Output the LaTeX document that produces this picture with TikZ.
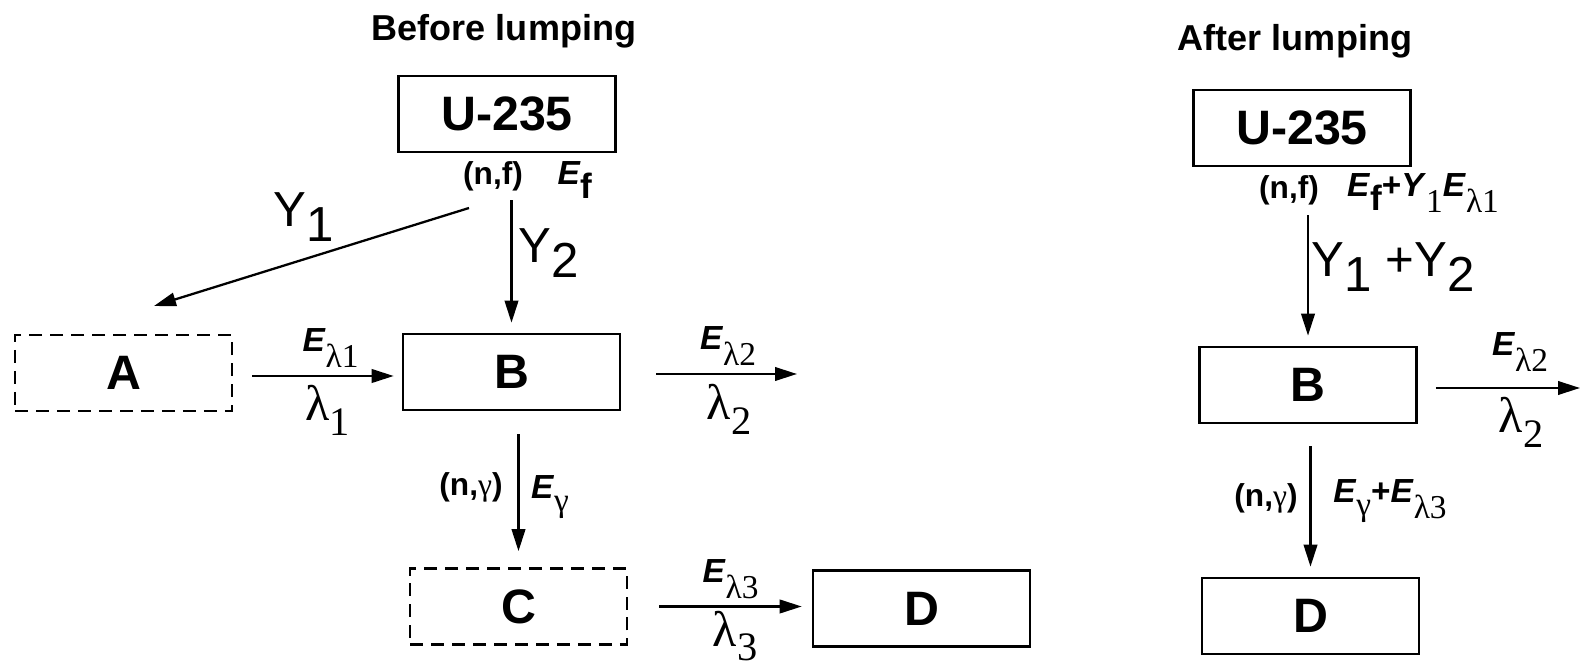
\documentclass[tikz,border=0pt]{standalone}
\usepackage{fontspec}
\setmainfont{Liberation Sans}
\newfontfamily\greekfont{Liberation Serif}
\usepackage{tikz}
\usetikzlibrary{arrows.meta,positioning}

\newcommand{\Esym}{\textbf{\textit{E}}}
\newcommand{\sublow}[2]{\raisebox{-#1}{#2}}

\begin{document}
\begin{tikzpicture}[
    x=0.02cm, y=-0.02cm,
    species/.style={rectangle, draw=black, line width=1.5pt, minimum width=4.34cm, minimum height=1.52cm, inner sep=0pt, font=\fontsize{27.5}{30}\selectfont\bfseries},
    lumped/.style={species, dash pattern=on 0.26cm off 0.16cm},
    title/.style={font=\fontsize{20.5}{24}\selectfont\bfseries, inner sep=0pt},
    reaction/.style={font=\fontsize{18}{20}\selectfont\bfseries, inner sep=0pt},
    energy/.style={font=\fontsize{19}{21}\selectfont, inner sep=0pt},
    yieldlab/.style={font=\fontsize{28}{30}\selectfont, inner sep=0pt},
    decaylab/.style={font=\fontsize{28.5}{30}\selectfont\greekfont, inner sep=0pt},
    arrow/.style={-{Triangle[length=0.44cm, width=0.27cm]}, line width=1.3pt, draw=black}
]
\useasboundingbox (0,0) rectangle (1582,671);

% before lumping
\node[title] (titleL) at (504,31) {Before lumping};
\node[species] (u235L) at (507,114) {U-235};
\node[reaction] (nfL) at (493,176) {(n,f)};
\node[energy] (EfL) at (575,180) {\Esym\sublow{8pt}{\fontsize{20}{20}\selectfont\bfseries f}};
\node[yieldlab] (Y1L) at (304,217.5) {Y\sublow{8.5pt}{1}};
\node[yieldlab] (Y2L) at (549,253) {Y\sublow{8.5pt}{2}};

\node[lumped] (A) at (123.5,373) {A};
\node[species] (B) at (511.5,372) {B};
\node[lumped] (C) at (518.5,606.5) {C};
\node[species] (D) at (921.5,608.5) {D};

\node[energy] (El1) at (330.5,348) {\Esym\sublow{9pt}{\greekfont λ1}};
\node[decaylab] (l1) at (327.5,410) {λ\sublow{8.5pt}{\fontsize{23}{23}\selectfont 1}};
\node[energy] (El2) at (728,346) {\Esym\sublow{9pt}{\greekfont λ2}};
\node[decaylab] (l2) at (729,409) {λ\sublow{8.5pt}{\fontsize{23}{23}\selectfont 2}};
\node[reaction] (ngL) at (471,487.5) {(n,{\mdseries\greekfont γ})};
\node[energy] (EgL) at (550,497.5) {\Esym\sublow{7.4pt}{\greekfont γ}};
\node[energy] (El3) at (730.5,579) {\Esym\sublow{9pt}{\greekfont λ3}};
\node[decaylab] (l3) at (735,636) {λ\sublow{8pt}{\fontsize{23}{23}\selectfont 3}};

\coordinate (Y1start) at (469,208);
\coordinate (Y1end) at (154,306);
\coordinate (Bout) at (797,374);

\draw[arrow] (Y1start) -- (Y1end);
\draw[arrow, shorten <=0.18cm, shorten >=0.2cm] (nfL.south -| B.north) -- (B.north);
\draw[arrow, shorten <=0.38cm, shorten >=0.16cm] ([yshift=-0.06cm]A.east) -- ([yshift=-0.06cm]A.east -| B.west);
\draw[arrow, shorten <=0.7cm] (B.east |- Bout) -- (Bout);
\draw[arrow, shorten <=0.46cm, shorten >=0.32cm] (C.north |- B.south) -- (C.north);
\draw[arrow, shorten <=0.62cm, shorten >=0.2cm] (C.east) -- (C.east -| D.west);

% after lumping
\node[title] (titleR) at (1295,41) {After lumping};
\node[species] (u235R) at (1302,128) {U-235};
\node[reaction] (nfR) at (1289,190) {(n,f)};
\node[energy] (EfR) at (1423,193) {\Esym\sublow{8pt}{\fontsize{20}{20}\selectfont\bfseries f}\textbf{+}\textbf{\textit{Y}}\sublow{9pt}{\greekfont 1}\Esym\sublow{9pt}{\greekfont λ1}};
\node[yieldlab] (Y12R) at (1393,267) {Y\sublow{8.5pt}{1} +Y\sublow{8.5pt}{2}};

\node[species] (BR) at (1308,385) {B};
\node[species] (DR) at (1310.5,616) {D};

\node[energy] (El2R) at (1520,352) {\Esym\sublow{9pt}{\greekfont λ2}};
\node[decaylab] (l2R) at (1521,422.5) {λ\sublow{8.5pt}{\fontsize{23}{23}\selectfont 2}};
\node[reaction] (ngR) at (1266,498.5) {(n,{\mdseries\greekfont γ})};
\node[energy] (EgR) at (1390,501.5) {\Esym\sublow{7.4pt}{\greekfont γ}\textbf{+}\Esym\sublow{9pt}{\greekfont λ3}};

\coordinate (BRout) at (1580,388);

\draw[arrow, shorten <=0.2cm, shorten >=0.2cm] (nfR.south -| BR.north) -- (BR.north);
\draw[arrow, shorten <=0.36cm] (BR.east |- BRout) -- (BRout);
\draw[arrow, shorten <=0.44cm, shorten >=0.2cm] (DR.north |- BR.south) -- (DR.north);
\end{tikzpicture}
\end{document}
